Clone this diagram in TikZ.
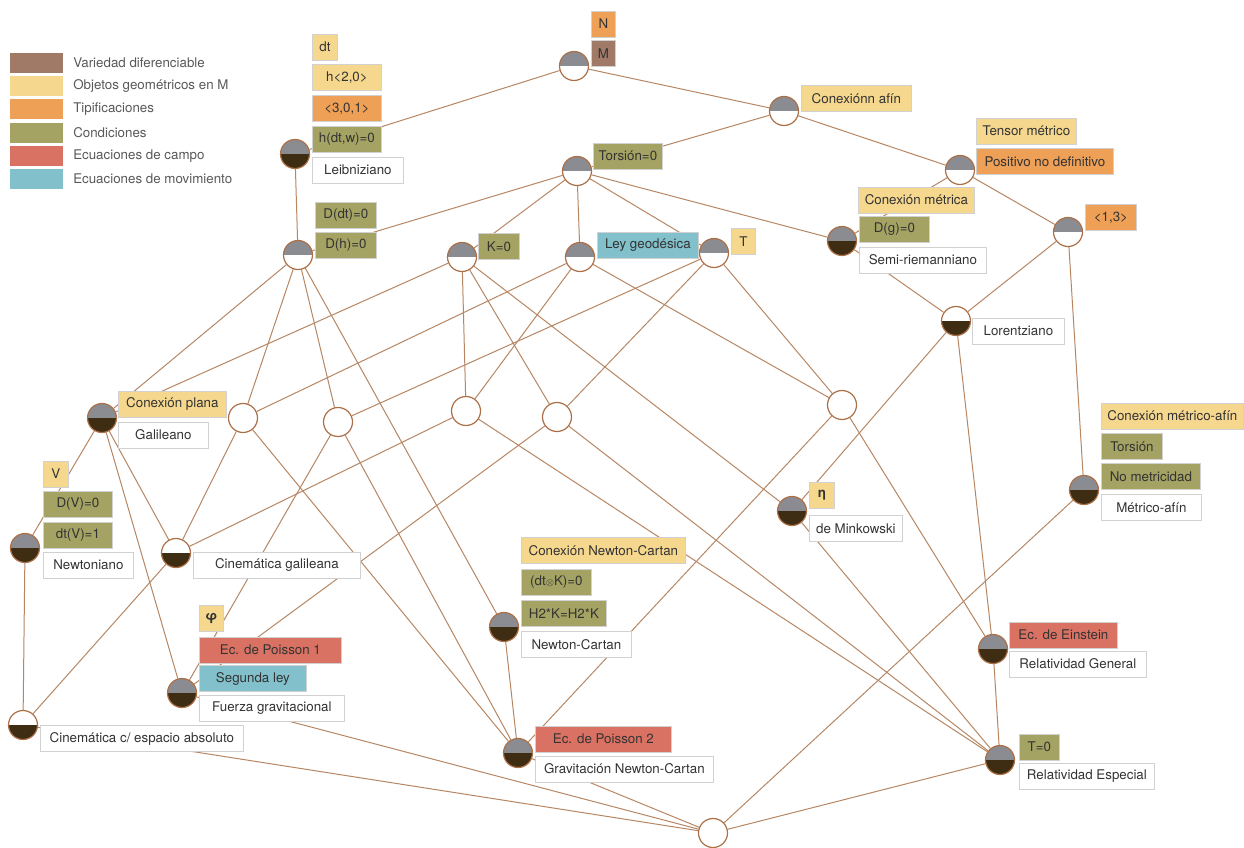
\documentclass[tikz,border=0pt]{standalone}
\usepackage{amsmath}
\usepackage{fontspec}
\setmainfont{TeX Gyre Heros}
\usepackage{xcolor}
\usepackage{tikz}
\usetikzlibrary{backgrounds}

\definecolor{linea}{RGB}{183,135,100}
\definecolor{borde}{RGB}{172,112,72}
\definecolor{gris}{RGB}{138,140,146}
\definecolor{oscuro}{RGB}{62,45,18}
\definecolor{cvdf}{RGB}{160,122,103}
\definecolor{cobj}{RGB}{246,215,142}
\definecolor{ctip}{RGB}{238,160,86}
\definecolor{ccnd}{RGB}{164,163,99}
\definecolor{cecc}{RGB}{218,114,99}
\definecolor{cecm}{RGB}{130,192,203}

\tikzset{
  nodo/.style={circle, draw=borde, line width=0.9pt, fill=white, minimum size=21.75pt, inner sep=0pt},
  mgb/.style={nodo, path picture={\fill[gris] (path picture bounding box.north west) rectangle (path picture bounding box.east);}},
  mgo/.style={nodo, path picture={\fill[gris] (path picture bounding box.north west) rectangle (path picture bounding box.east);
      \fill[oscuro] (path picture bounding box.west) rectangle (path picture bounding box.south east);}},
  mbo/.style={nodo, path picture={\fill[oscuro] (path picture bounding box.west) rectangle (path picture bounding box.south east);}},
  caja/.style={anchor=west, draw=black!18, line width=0.6pt, minimum height=19.5pt, inner sep=0pt,
      text=black!80, font=\fontsize{10}{12}\selectfont, minimum width=#1*0.75pt},
  vdf/.style={caja=#1, fill=cvdf},
  obj/.style={caja=#1, fill=cobj},
  tip/.style={caja=#1, fill=ctip},
  cnd/.style={caja=#1, fill=ccnd},
  ecc/.style={caja=#1, fill=cecc},
  ecm/.style={caja=#1, fill=cecm},
  nom/.style={caja=#1, fill=white},
  leyenda/.style={anchor=west, inner sep=0pt, text=black!65, font=\fontsize{10}{12}\selectfont},
  arista/.style={draw=linea, line width=0.75pt}
}

\begin{document}
\begin{tikzpicture}[x=0.75pt,y=0.75pt,yscale=-1,xscale=1]
\useasboundingbox (0,0) rectangle (1244,848);

% Legend
\fill [cvdf] (10,53) rectangle (63,73);
\fill [cobj] (10,76) rectangle (63,96);
\fill [ctip] (10,99) rectangle (63,119);
\fill [ccnd] (10,123) rectangle (63,143);
\fill [cecc] (10,146) rectangle (63,166);
\fill [cecm] (10,169) rectangle (63,189);
\node [leyenda] (ley1) at (73,63) {Variedad diferenciable};
\node [leyenda] (ley2) at (73,86) {Objetos geométricos en M};
\node [leyenda] (ley3) at (73,109) {Tipificaciones};
\node [leyenda] (ley4) at (73,133) {Condiciones};
\node [leyenda] (ley5) at (73,156) {Ecuaciones de campo};
\node [leyenda] (ley6) at (73,179) {Ecuaciones de movimiento};

% Structure nodes
\node [mgb] (top) at (574,66) {};
\node [mgb] (afin) at (784,111) {};
\node [mgo] (leib) at (295,154) {};
\node [mgb] (tors) at (577,171) {};
\node [mgb] (metr) at (960,170) {};
\node [mgo] (semi) at (842,241) {};
\node [mgb] (lor13) at (1068,232) {};
\node [mgb] (ddt) at (298,255) {};
\node [mgb] (kz) at (462,257) {};
\node [mgb] (geo) at (580,257) {};
\node [mgb] (tt) at (714,253) {};
\node [mbo] (lorz) at (956,321) {};
\node [mgo] (gal) at (102,418) {};
\node [nodo] (e1) at (243,418) {};
\node [nodo] (e2) at (338,422) {};
\node [nodo] (e3) at (466,411) {};
\node [nodo] (e4) at (557,417) {};
\node [nodo] (e5) at (842,405) {};
\node [mgo] (newt) at (25,548) {};
\node [mbo] (cgal) at (176,553) {};
\node [mgo] (mink) at (792,511) {};
\node [mgo] (maf) at (1084,490) {};
\node [mgo] (nc) at (504,627) {};
\node [mgo] (fgrav) at (182,693) {};
\node [mbo] (cabs) at (23,725) {};
\node [mgo] (gnc) at (518,753) {};
\node [mgo] (rg) at (993,649) {};
\node [mgo] (re) at (1000,760) {};
\node [nodo] (bot) at (713,833) {};

% Text Node
\node [tip=24] (nL) at (591,24) {N};
\node [vdf=24] (mL) at (591,53.5) {M};
\node [obj=110] (afinL) at (801,98.5) {Conexiónn afín};
% Text Node
\node [obj=25] (dtL) at (312,47) {dt};
\node [obj=69] (h20L) at (312,77.5) {h<2,0>};
\node [tip=69] (t301L) at (312,108.5) {<3,0,1>};
\node [cnd=69] (hdtwL) at (312,139.5) {h(dt,w)=0};
\node [nom=91] (leibL) at (312,170) {Leibniziano};
% Text Node
\node [cnd=69] (torsL) at (593,156) {Torsión=0};
\node [obj=100] (tensL) at (976,131) {Tensor métrico};
\node [tip=137] (posL) at (976,161.5) {Positivo no definitivo};
\node [obj=116] (cmL) at (858,200) {Conexión métrica};
\node [cnd=70] (dgL) at (859,229.5) {D(g)=0};
\node [nom=127] (semiL) at (859,260) {Semi-riemanniano};
\node [tip=51] (l13L) at (1085,217.5) {<1,3>};
% Text Node
\node [cnd=61] (ddtL) at (315,215.5) {D(dt)=0};
\node [cnd=61] (dhL) at (315,245) {D(h)=0};
\node [cnd=41] (kzL) at (478,246.5) {K=0};
\node [ecm=101] (geoL) at (597,245.5) {Ley geodésica};
\node [obj=24] (ttL) at (731,241.5) {T};
\node [nom=92] (lorzL) at (972,331) {Lorentziano};
% Text Node
\node [obj=108] (cpL) at (118,404) {Conexión plana};
\node [nom=90] (galL) at (118,435) {Galileano};
\node [obj=25] (vL) at (43,474) {V};
\node [cnd=69] (dvL) at (43,504) {D(V)=0};
\node [cnd=69] (dtvL) at (43,535) {dt(V)=1};
\node [nom=90] (newtL) at (43,565) {Newtoniano};
\node [nom=167] (cgalL) at (193,565) {Cinemática galileana};
% Text Node
\node [obj=24] (phiL) at (199,618.5) {\textbf{φ}};
\node [ecc=142] (p1L) at (199,650) {Ec. de Poisson 1};
\node [ecm=107] (slL) at (199,678.5) {Segunda ley};
\node [nom=145] (fgL) at (199,708.5) {Fuerza gravitacional};
\node [nom=203] (cabsL) at (40,738.5) {Cinemática c/ espacio absoluto};
% Text Node
\node [obj=164] (cncL) at (521,550.5) {Conexión Newton-Cartan};
\node [cnd=70] (dtkL) at (521,582.5) {(dt{\fontsize{7}{7}\selectfont$\otimes$}K)=0};
\node [cnd=85] (h2L) at (521,613.5) {H2*K=H2*K};
\node [nom=110] (ncL) at (521,644.5) {Newton-Cartan};
\node [ecc=136] (p2L) at (535,739) {Ec. de Poisson 2};
\node [nom=178] (gncL) at (535,769) {Gravitación Newton-Cartan};
% Text Node
\node [obj=25] (etaL) at (809,495) {\textbf{η}};
\node [nom=93] (minkL) at (809,528.5) {de Minkowski};
\node [obj=142] (cmaL) at (1101,416) {Conexión métrico-afín};
\node [cnd=61] (torL) at (1101,446.5) {Torsión};
\node [cnd=99] (nmL) at (1101,476.5) {No metricidad};
\node [nom=100] (mafL) at (1101,507.5) {Métrico-afín};
\node [ecc=108] (einL) at (1009,635) {Ec. de Einstein};
\node [nom=137] (rgL) at (1009,664) {Relatividad General};
\node [cnd=40] (t0L) at (1019,747) {T=0};
\node [nom=135] (reL) at (1019,776) {Relatividad Especial};

% Connectors
\begin{scope}[on background layer]
\fill [white] (0,0) rectangle (1244,848);
\draw [arista] (top) -- (leib);
\draw [arista] (top) -- (afin);
\draw [arista] (afin) -- (tors);
\draw [arista] (afin) -- (metr);
\draw [arista] (leib) -- (ddt);
\draw [arista] (tors) -- (ddt);
\draw [arista] (tors) -- (kz);
\draw [arista] (tors) -- (geo);
\draw [arista] (tors) -- (tt);
\draw [arista] (tors) -- (semi);
\draw [arista] (metr) -- (semi);
\draw [arista] (metr) -- (lor13);
\draw [arista] (semi) -- (lorz);
\draw [arista] (lor13) -- (lorz);
\draw [arista] (lor13) -- (maf);
\draw [arista] (ddt) -- (gal);
\draw [arista] (ddt) -- (e1);
\draw [arista] (ddt) -- (e2);
\draw [arista] (ddt) -- (nc);
\draw [arista] (kz) -- (gal);
\draw [arista] (kz) -- (e3);
\draw [arista] (kz) -- (e4);
\draw [arista] (kz) -- (mink);
\draw [arista] (geo) -- (e1);
\draw [arista] (geo) -- (e3);
\draw [arista] (geo) -- (e5);
\draw [arista] (tt) -- (e2);
\draw [arista] (tt) -- (e4);
\draw [arista] (tt) -- (e5);
\draw [arista] (lorz) -- (mink);
\draw [arista] (lorz) -- (rg);
\draw [arista] (gal) -- (newt);
\draw [arista] (gal) -- (cgal);
\draw [arista] (gal) -- (fgrav);
\draw [arista] (e1) -- (cgal);
\draw [arista] (e1) -- (gnc);
\draw [arista] (e2) -- (fgrav);
\draw [arista] (e2) -- (gnc);
\draw [arista] (e3) -- (cgal);
\draw [arista] (e3) -- (re);
\draw [arista] (e4) -- (fgrav);
\draw [arista] (e4) -- (re);
\draw [arista] (e5) -- (gnc);
\draw [arista] (e5) -- (rg);
\draw [arista] (newt) -- (cabs);
\draw [arista] (cgal) -- (cabs);
\draw [arista] (nc) -- (gnc);
\draw [arista] (mink) -- (re);
\draw [arista] (rg) -- (re);
\draw [arista] (cabs) -- (bot);
\draw [arista] (fgrav) -- (bot);
\draw [arista] (gnc) -- (bot);
\draw [arista] (maf) -- (bot);
\draw [arista] (re) -- (bot);
\end{scope}

\end{tikzpicture}
\end{document}
